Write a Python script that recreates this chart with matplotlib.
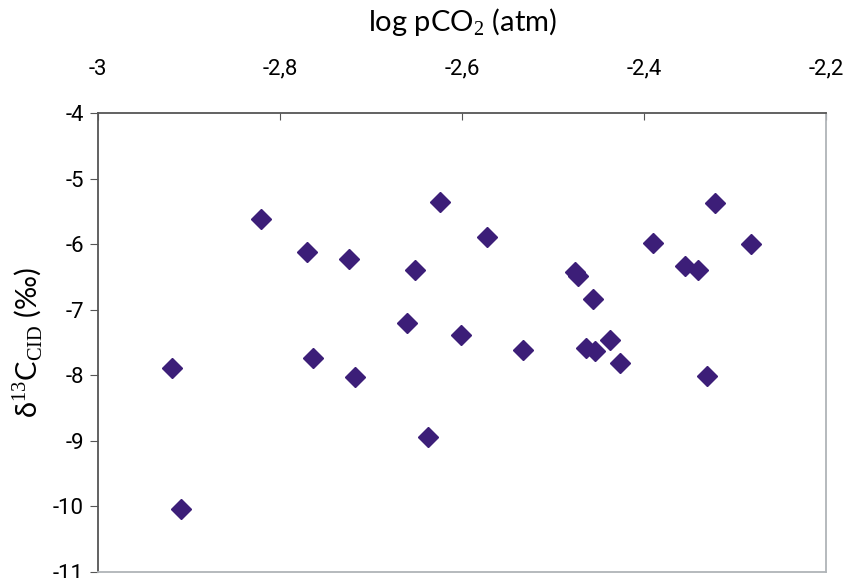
import matplotlib.pyplot as plt
from matplotlib.ticker import FuncFormatter

# data
log_pco2 = [-2.919, -2.909, -2.821, -2.770, -2.764, -2.724, -2.718, -2.660,
            -2.652, -2.637, -2.624, -2.601, -2.573, -2.533, -2.476, -2.473,
            -2.464, -2.456, -2.454, -2.437, -2.426, -2.390, -2.355, -2.341,
            -2.331, -2.322, -2.282]
d13c_cid = [-7.89, -10.04, -5.62, -6.12, -7.73, -6.23, -8.02, -7.21,
            -6.40, -8.94, -5.35, -7.38, -5.89, -7.62, -6.42, -6.48,
            -7.59, -6.83, -7.63, -7.46, -7.81, -5.98, -6.34, -6.40,
            -8.01, -5.38, -6.00]

xticks = [-3, -2.8, -2.6, -2.4, -2.2]
yticks = [-11, -10, -9, -8, -7, -6, -5, -4]

plt.rcParams['font.family'] = ['Roboto', 'DejaVu Sans']
plt.rcParams['mathtext.fontset'] = 'custom'
plt.rcParams['mathtext.rm'] = 'Liberation Serif'

fig = plt.figure(figsize=(8.47, 5.78), dpi=100)
ax = fig.add_axes([0.1157, 0.0104, 0.8595, 0.7941])

ax.plot(log_pco2, d13c_cid, linestyle='none', marker='D', markersize=10.5,
        color='#3c1e78', markeredgecolor='#3c1e78')

ax.set_xlim(-3, -2.2)
ax.set_ylim(-11, -4)
ax.set_xticks(xticks)
ax.set_yticks(yticks)

comma = FuncFormatter(lambda v, p: ('%g' % round(v, 2)).replace('.', ','))
ax.xaxis.set_major_formatter(comma)
ax.yaxis.set_major_formatter(comma)

ax.xaxis.tick_top()
ax.xaxis.set_label_position('top')
ax.tick_params(axis='x', direction='in', length=5, labelsize=16, pad=24,
               color='#555555')
ax.tick_params(axis='y', direction='out', length=6, labelsize=16, pad=4,
               color='#555555')

for side in ['left', 'top']:
    ax.spines[side].set_color('#555555')
for side in ['right', 'bottom']:
    ax.spines[side].set_color('#b0b4b8')
for s in ax.spines.values():
    s.set_linewidth(1.3)

ax.set_xlabel(r'log pCO$_2$ (atm)', fontsize=21, labelpad=20,
              family=['Lato', 'DejaVu Sans'])
ax.set_ylabel(r'δ$^{13}$C$_{\rm CID}$ (‰)', fontsize=21, labelpad=6,
              family=['Lato', 'DejaVu Sans'])

fig.savefig('out.png', dpi=100)
